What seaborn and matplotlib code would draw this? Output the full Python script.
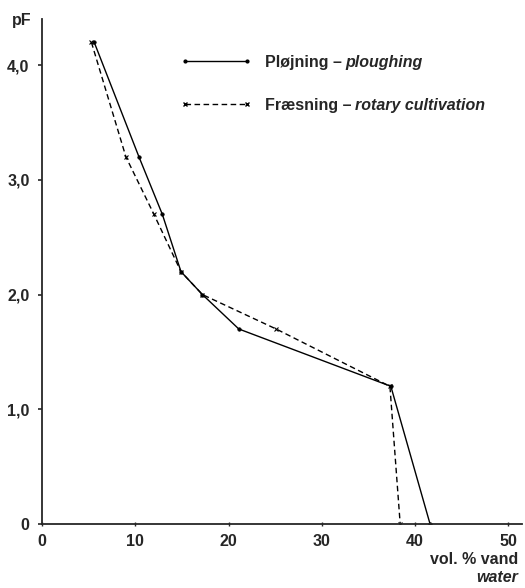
import matplotlib
matplotlib.use("Agg")
import matplotlib.pyplot as plt
import seaborn as sns
import pandas as pd
from matplotlib.lines import Line2D
from matplotlib.transforms import offset_copy

# pF curve readings, ploughing (solid) and rotary cultivation (dashed)
plough_water = [5.6, 10.4, 12.9, 14.9, 17.2, 21.1, 37.4, 41.6]
plough_pf = [4.2, 3.2, 2.7, 2.2, 2.0, 1.7, 1.2, 0.0]
rotary_water = [5.3, 9.0, 12.0, 14.9, 17.2, 25.1, 37.3, 38.4]
rotary_pf = [4.2, 3.2, 2.7, 2.2, 2.0, 1.7, 1.2, 0.0]

methods = ["Pløjning", "Fræsning"]
methods_en = ["ploughing", "rotary cultivation"]
x_ticks = [0, 10, 20, 30, 40, 50]
y_ticks = [0, 1, 2, 3, 4]
y_tick_labels = ["0", "1,0", "2,0", "3,0", "4,0"]

plough = pd.DataFrame({"water": plough_water, "pF": plough_pf})
rotary = pd.DataFrame({"water": rotary_water, "pF": rotary_pf})

sns.set_style("ticks")
plt.rcParams["font.family"] = ["Liberation Sans", "DejaVu Sans"]
plt.rcParams["font.weight"] = "bold"
FS = 11.5

fig = plt.figure(figsize=(5.25, 5.88), dpi=100)
ax = fig.add_axes([0.08, 0.109, 0.915, 0.858])

sns.lineplot(data=plough, x="water", y="pF", sort=False, color="black",
             lw=1.0, marker="o", ms=2.5, mec="black", mew=0.5, ax=ax)
sns.lineplot(data=rotary, x="water", y="pF", sort=False, color="black",
             lw=1.0, marker="x", ms=3.5, mec="black", mew=0.8, dashes=(4, 2.5), ax=ax)

ax.set_xlim(0, 51.5)
ax.set_ylim(0, 4.4)
ax.set_xticks(x_ticks)
ax.set_yticks(y_ticks)
ax.set_yticklabels(y_tick_labels)
ax.set_xlabel("")
ax.set_ylabel("")
for s in ["top", "right"]:
    ax.spines[s].set_visible(False)
ax.spines["left"].set_linewidth(1.3)
ax.spines["bottom"].set_linewidth(1.3)
ax.tick_params(axis="y", direction="out", length=3, width=1.2, labelsize=FS, pad=6)
ax.tick_params(axis="x", direction="inout", length=3, width=1.0, labelsize=FS, pad=6)

# axis titles
fig.text(22 / 525, 1 - 20 / 588, "pF", fontsize=FS, ha="center", va="center")
fig.text(518 / 525, 1 - 560 / 588, "vol. % vand", fontsize=FS, ha="right", va="center")
fig.text(518 / 525, 1 - 578 / 588, "water", fontsize=FS, ha="right", va="center",
         style="italic")

# legend with mixed upright / italic labels
handles = [
    Line2D([], [], color="black", lw=1.0, marker="o", ms=2.0),
    Line2D([], [], color="black", lw=1.0, marker="x", ms=3.0, dashes=(4, 2.5)),
]
leg = ax.legend(handles, [m + " –" for m in methods], loc="upper left",
                bbox_to_anchor=(180 / 525, 1 - 55 / 588), bbox_transform=fig.transFigure,
                frameon=False, borderpad=0, borderaxespad=0, numpoints=2,
                handlelength=4.5, handletextpad=0.85, labelspacing=1.75,
                fontsize=FS)
fig.canvas.draw()
renderer = fig.canvas.get_renderer()
for t, en in zip(leg.get_texts(), methods_en):
    bb = t.get_window_extent(renderer)
    tr = offset_copy(fig.transFigure, fig=fig, x=3, y=0, units="dots")
    fig.text(bb.x1 / fig.bbox.width, (bb.y0 + bb.y1) / 2 / fig.bbox.height, en,
             transform=tr, fontsize=FS, style="italic", ha="left", va="center")

fig.savefig("out.png", dpi=100)
